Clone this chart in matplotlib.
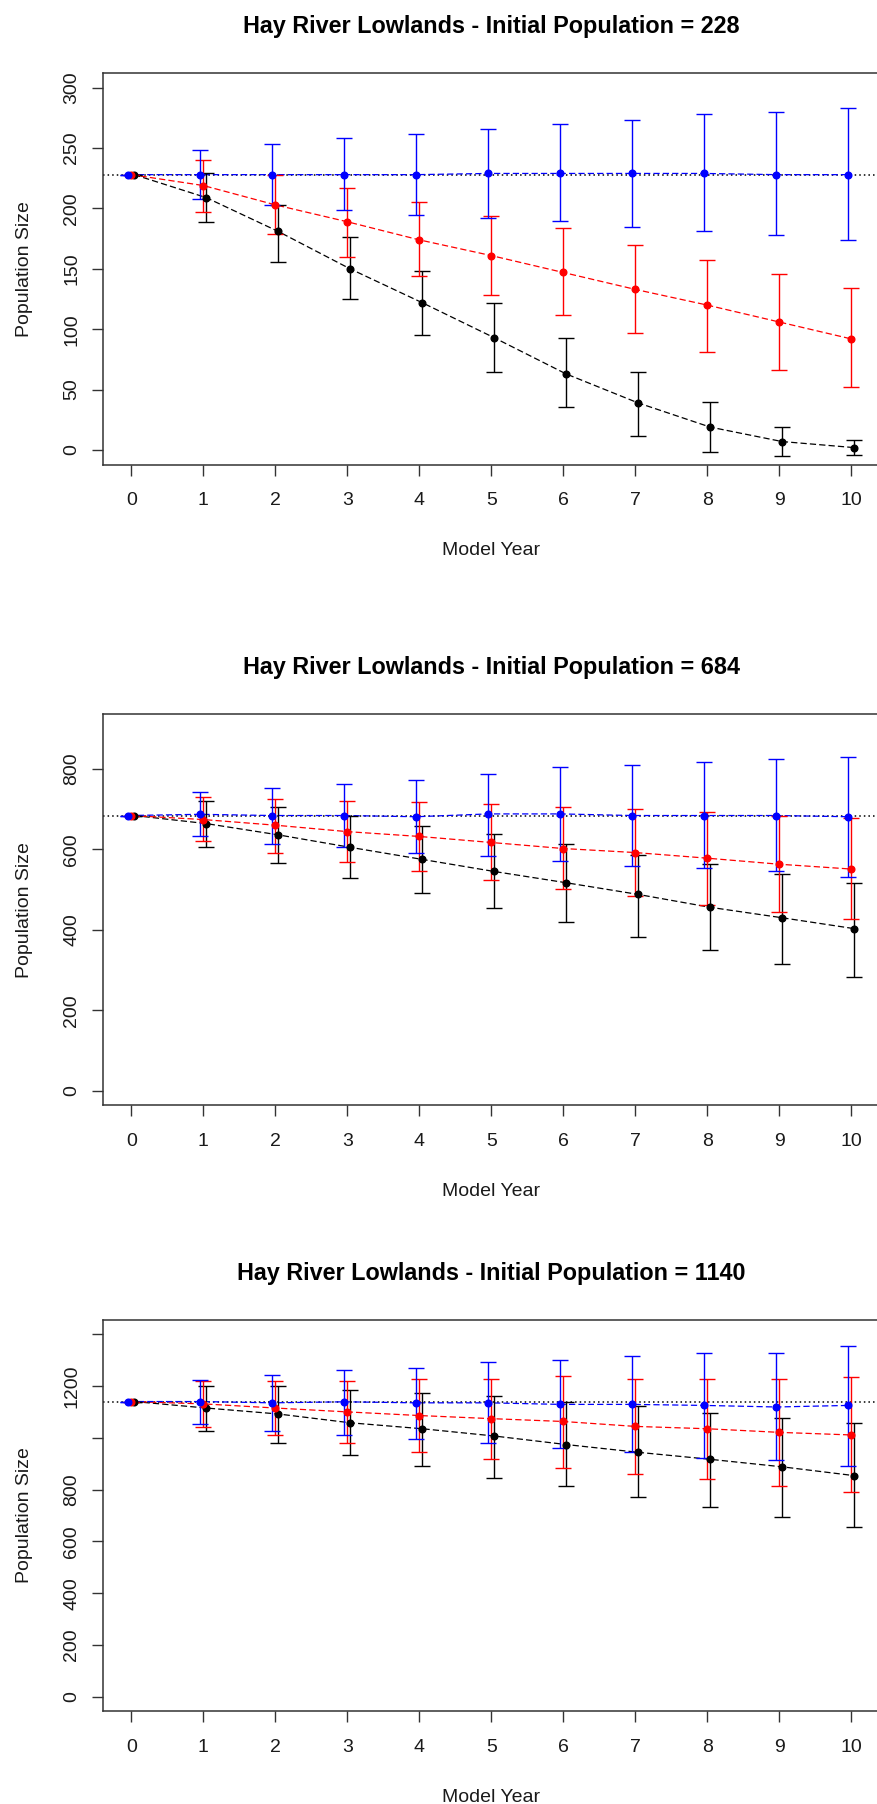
import numpy as np
import matplotlib
matplotlib.use("Agg")
import matplotlib.pyplot as plt

plt.rcParams['font.family'] = ['Liberation Sans', 'DejaVu Sans']

years = list(range(11))
tick_labels = [str(y) for y in years]

# initial population 228
p1_blue_mean = [228, 228, 228, 228, 228, 229, 229, 229, 229, 228, 228]
p1_blue_lo = [228, 208, 203, 199, 195, 192, 190, 185, 181, 178, 174]
p1_blue_hi = [228, 248, 253, 258, 262, 266, 270, 273, 278, 280, 283]
p1_red_mean = [228, 219, 203, 189, 174, 161, 147, 133, 120, 106, 92]
p1_red_lo = [228, 197, 179, 160, 144, 128, 112, 97, 81, 66, 52]
p1_red_hi = [228, 240, 228, 217, 205, 194, 184, 170, 157, 146, 134]
p1_black_mean = [228, 209, 181, 150, 122, 93, 63, 39, 19, 7, 2]
p1_black_lo = [228, 189, 156, 125, 95, 65, 36, 12, -2, -5, -4]
p1_black_hi = [228, 229, 203, 176, 148, 122, 93, 65, 40, 19, 8]

# initial population 684
p2_blue_mean = [684, 687, 684, 684, 681, 688, 688, 684, 684, 684, 681]
p2_blue_lo = [684, 633, 613, 606, 590, 583, 572, 559, 553, 547, 531]
p2_blue_hi = [684, 743, 753, 763, 773, 788, 805, 809, 817, 824, 829]
p2_red_mean = [684, 674, 660, 644, 632, 617, 602, 592, 578, 563, 551]
p2_red_lo = [684, 620, 592, 568, 545, 523, 501, 484, 462, 444, 426]
p2_red_hi = [684, 729, 726, 721, 718, 712, 706, 699, 693, 684, 679]
p2_black_mean = [684, 664, 636, 605, 575, 545, 517, 488, 456, 430, 403]
p2_black_lo = [684, 605, 566, 529, 492, 453, 420, 382, 350, 316, 283]
p2_black_hi = [684, 719, 706, 683, 657, 639, 613, 586, 563, 539, 517]

# initial population 1140
p3_blue_mean = [1140, 1140, 1135, 1139, 1135, 1135, 1129, 1129, 1125, 1119, 1125]
p3_blue_lo = [1140, 1053, 1025, 1011, 997, 978, 960, 946, 922, 913, 892]
p3_blue_hi = [1140, 1225, 1243, 1263, 1271, 1294, 1299, 1314, 1328, 1328, 1356]
p3_red_mean = [1140, 1131, 1115, 1100, 1086, 1074, 1063, 1044, 1035, 1021, 1011]
p3_red_lo = [1140, 1040, 1011, 978, 944, 917, 883, 860, 840, 813, 789]
p3_red_hi = [1140, 1219, 1219, 1219, 1228, 1228, 1239, 1228, 1228, 1228, 1233]
p3_black_mean = [1140, 1115, 1092, 1058, 1035, 1007, 974, 944, 917, 888, 854]
p3_black_lo = [1140, 1025, 978, 935, 892, 846, 813, 771, 733, 694, 657]
p3_black_hi = [1140, 1200, 1200, 1186, 1172, 1163, 1139, 1121, 1096, 1078, 1058]

init_pops = [228, 684, 1140]
ymaxes = [300, 900, 1400]
ytick_sets = [list(range(0, 301, 50)), list(range(0, 801, 200)), list(range(0, 1401, 200))]
ytick_label_sets = [
    [str(v) for v in ytick_sets[0]],
    [str(v) for v in ytick_sets[1]],
    ['0', '200', '400', '600', '800', '', '1200', ''],
]

panels = [
    [(p1_black_mean, p1_black_lo, p1_black_hi), (p1_red_mean, p1_red_lo, p1_red_hi), (p1_blue_mean, p1_blue_lo, p1_blue_hi)],
    [(p2_black_mean, p2_black_lo, p2_black_hi), (p2_red_mean, p2_red_lo, p2_red_hi), (p2_blue_mean, p2_blue_lo, p2_blue_hi)],
    [(p3_black_mean, p3_black_lo, p3_black_hi), (p3_red_mean, p3_red_lo, p3_red_hi), (p3_blue_mean, p3_blue_lo, p3_blue_hi)],
]
colors = ['black', 'red', 'blue']
offsets = [0.04, 0.0, -0.04]

W, H = 877, 1804
fig = plt.figure(figsize=(W / 100, H / 100), dpi=100)

# pixel boxes (top, bottom) of each plot region
boxes = [(73.2, 464.5), (714.1, 1105.3), (1319.7, 1711.3)]
left_px, right_px = 102.5, 880.0
box_col = '#333333'

for i, (top, bot) in enumerate(boxes):
    ax = fig.add_axes([left_px / W, 1 - bot / H, (right_px - left_px) / W, (bot - top) / H])
    ymax = ymaxes[i]
    ax.set_xlim(-0.4, 10.4)
    ax.set_ylim(-0.04 * ymax, 1.04 * ymax)

    # reference line at the starting population
    ax.axhline(init_pops[i], color='black', lw=1.1, dashes=(1, 2.0), zorder=1)

    for (mean, lo, hi), c, off in zip(panels[i], colors, offsets):
        mean = np.array(mean)
        lo = np.array(lo)
        hi = np.array(hi)
        x = np.array(years) + off
        ax.plot(x, mean, color=c, lw=0.9, dashes=(5, 2.5), zorder=2)
        ax.errorbar(x, mean, yerr=[mean - lo, hi - mean], fmt='o', color=c, ms=4.8,
                    elinewidth=1.0, capsize=5.8, capthick=1.0, zorder=3)

    ax.set_xticks(years)
    ax.set_xticklabels(tick_labels)
    ax.set_yticks(ytick_sets[i])
    ax.set_yticklabels(ytick_label_sets[i], rotation=90, va='center')
    ax.tick_params(axis='both', length=8, width=1.0, color=box_col, labelsize=14,
                   labelcolor='#1a1a1a')
    ax.tick_params(axis='x', pad=12)
    ax.tick_params(axis='y', pad=8)
    for s in ax.spines.values():
        s.set_color(box_col)
        s.set_linewidth(1.1)

    ax.set_title(f"Hay River Lowlands - Initial Population = {init_pops[i]}",
                 fontsize=16.8, fontweight='bold', pad=28.7)
    ax.set_xlabel("Model Year", fontsize=14, color='#1a1a1a')
    ax.xaxis.label.set_va('baseline')
    ax.xaxis.set_label_coords(0.5, -90.4 / (bot - top))
    ax.set_ylabel("Population Size", fontsize=14, color='#1a1a1a')
    ax.yaxis.label.set_va('center')
    ax.yaxis.set_label_coords((24.5 - left_px) / (right_px - left_px), 0.5)

fig.savefig("out.png", dpi=100)
